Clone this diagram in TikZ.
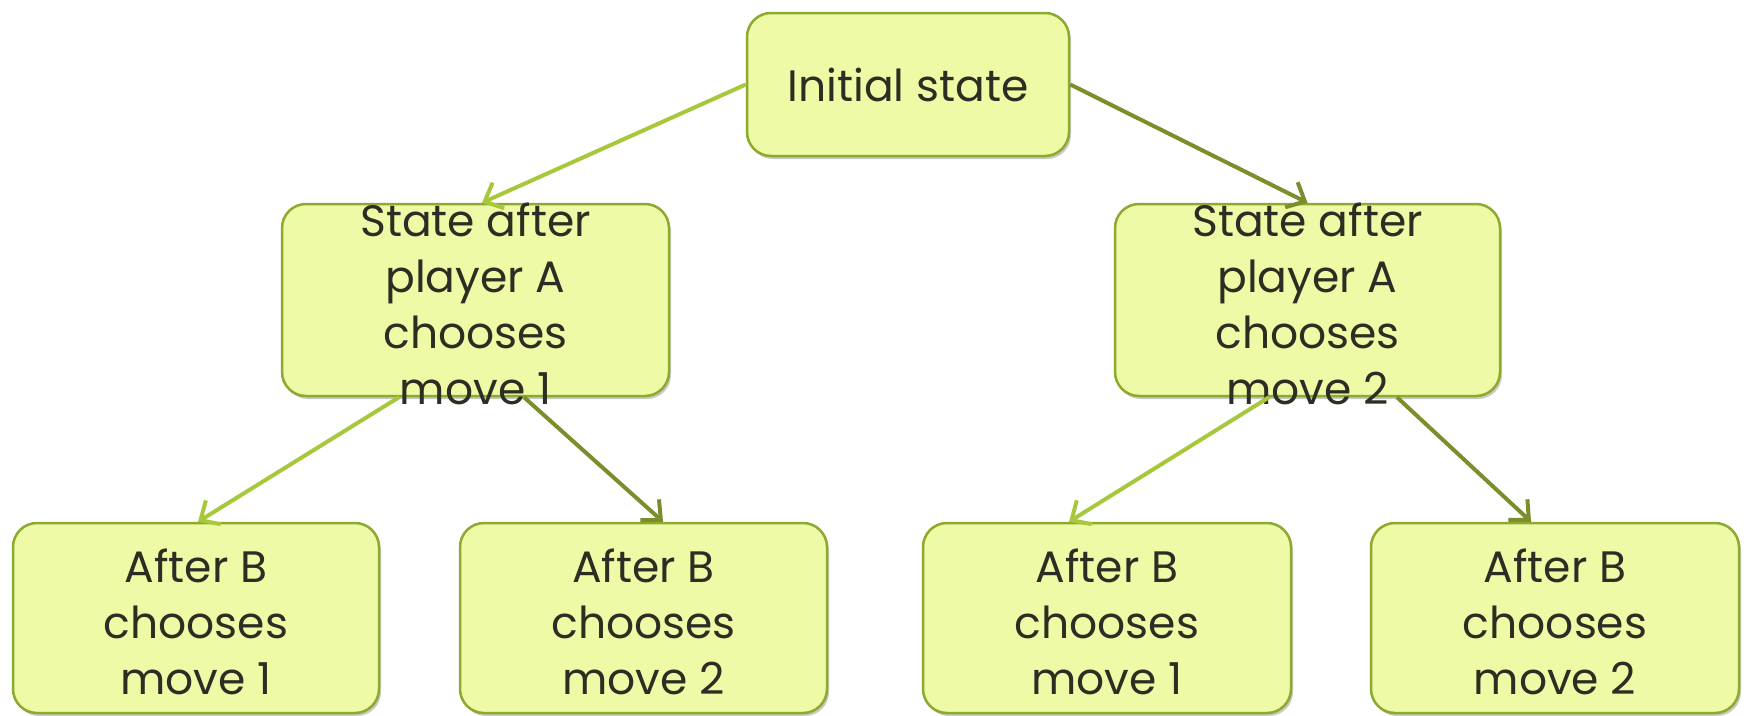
\documentclass[tikz,border=0pt]{standalone}
\usepackage{fontspec}
\setmainfont{Poppins}
\usetikzlibrary{arrows.meta,shadows,calc}
\definecolor{boxfill}{RGB}{238,250,165}
\definecolor{boxline}{RGB}{140,170,45}
\definecolor{armlight}{RGB}{168,200,60}
\definecolor{armdark}{RGB}{122,142,44}
\definecolor{ink}{RGB}{45,45,35}
\begin{document}
\begin{tikzpicture}[x=1pt,y=-1pt,
  statebox/.style={draw=boxline, line width=2.5pt, fill=boxfill,
    rounded corners=24pt, inner sep=0pt,
    drop shadow={shadow xshift=2pt, shadow yshift=-3pt, opacity=0.3, fill=black!70}},
  boxtext/.style={text=ink, align=center, inner sep=0pt,
    font=\fontsize{44}{56}\selectfont},
  link/.style={line width=4pt, -{Straight Barb[length=15pt,width=28pt]}},
]
\useasboundingbox (0,0) rectangle (1748,715);

% boxes
\node[statebox, minimum width=322pt, minimum height=143pt] (init) at (908,84.5) {};
\node[statebox, minimum width=387pt, minimum height=192pt] (ma) at (475.5,300) {};
\node[statebox, minimum width=385pt, minimum height=192pt] (mb) at (1307.5,300) {};
\node[statebox, minimum width=366pt, minimum height=190pt] (ba) at (196,618) {};
\node[statebox, minimum width=367pt, minimum height=190pt] (bb) at (643.5,618) {};
\node[statebox, minimum width=368pt, minimum height=190pt] (bc) at (1107,618) {};
\node[statebox, minimum width=368pt, minimum height=190pt] (bd) at (1555,618) {};

% labels
\node[boxtext] (initT) at (init.center) {Initial state};
\node[boxtext] (maT) at ($(ma.center)+(0,4)$) {State after\\player A\\chooses\\move 1};
\node[boxtext] (mbT) at ($(mb.center)+(0,4)$) {State after\\player A\\chooses\\move 2};
\node[boxtext] (baT) at ($(ba.center)+(0,4)$) {After B\\chooses\\move 1};
\node[boxtext] (bbT) at ($(bb.center)+(0,4)$) {After B\\chooses\\move 2};
\node[boxtext] (bcT) at ($(bc.center)+(0,4)$) {After B\\chooses\\move 1};
\node[boxtext] (bdT) at ($(bd.center)+(0,4)$) {After B\\chooses\\move 2};

% connectors
\draw[link, armlight] (init.west) -- ($(ma.north)+(6.5,0)$);
\draw[link, armdark] (init.east) -- (mb.north);
\draw[link, armlight] ($(ma.south)+(-76.5,0)$) -- ($(ba.north)+(2,0)$);
\draw[link, armdark] ($(ma.south)+(48.5,0)$) -- ($(bb.north)+(19.5,0)$);
\draw[link, armlight] ($(mb.south)+(-38.5,0)$) -- ($(bc.north)+(-38,0)$);
\draw[link, armdark] ($(mb.south)+(89.5,0)$) -- ($(bd.north)+(-24,0)$);
\end{tikzpicture}
\end{document}
